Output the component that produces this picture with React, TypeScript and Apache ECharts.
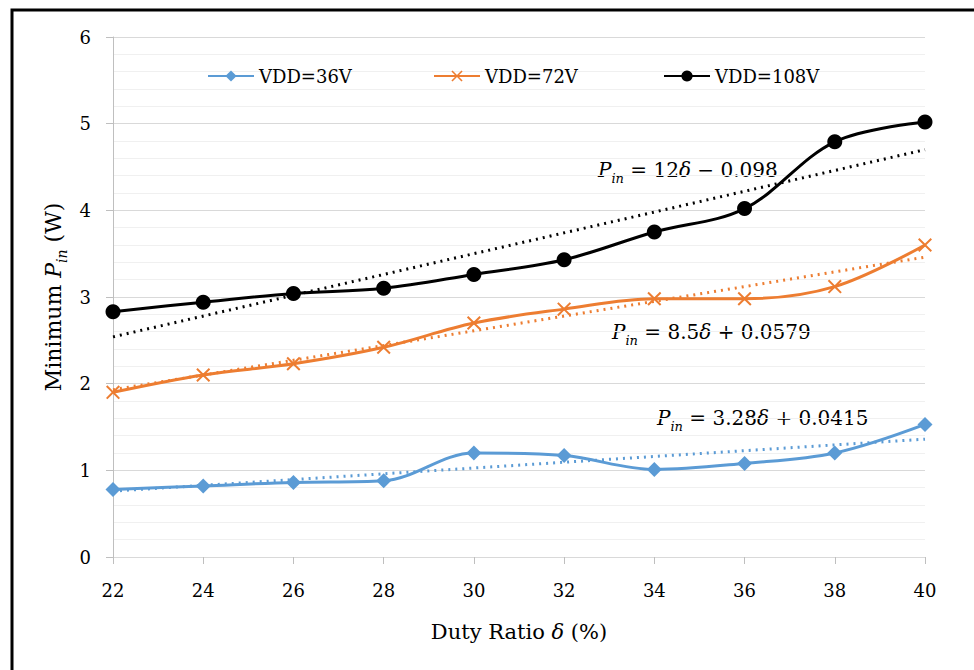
import React, { useEffect, useRef } from "react";
import * as echarts from "echarts";

const duty = [22, 24, 26, 28, 30, 32, 34, 36, 38, 40];
const vdd36 = [0.78, 0.82, 0.86, 0.88, 1.2, 1.17, 1.01, 1.08, 1.2, 1.53];
const vdd72 = [1.9, 2.1, 2.23, 2.42, 2.7, 2.86, 2.98, 2.98, 3.12, 3.6];
const vdd108 = [2.83, 2.94, 3.04, 3.1, 3.26, 3.43, 3.75, 4.02, 4.79, 5.02];
const trendX = [22, 40];
const trend36 = [0.76, 1.36];
const trend72 = [1.93, 3.46];
const trend108 = [2.54, 4.7];
const seriesNames = ["VDD=36V", "VDD=72V", "VDD=108V"];
const yTicks = [0, 6, 1];

const BLUE = "#5B9BD5";
const ORANGE = "#ED7D31";
const BLACK = "#000000";
const FONT = "DejaVu Serif";
const X_PATH =
  "path://M0,1.2L1.2,0L6,4.8L10.8,0L12,1.2L7.2,6L12,10.8L10.8,12L6,7.2L1.2,12L0,10.8L4.8,6Z";

const pair = (xs: number[], ys: number[]) => xs.map((x, i) => [x, ys[i]]);

function eqRich(color: string) {
  const base = { fontFamily: FONT, color, lineHeight: 30, verticalAlign: "middle" };
  return {
    p: { ...base, fontSize: 20, fontStyle: "italic" },
    s: { ...base, fontSize: 13, fontStyle: "italic", verticalAlign: "bottom" },
    t: { ...base, fontSize: 20 },
    d: { ...base, fontSize: 20, fontStyle: "italic" },
  };
}

export default function App() {
  const ref = useRef<HTMLDivElement>(null);
  useEffect(() => {
    if (!ref.current) return;
    const chart = echarts.init(ref.current, undefined, { renderer: "svg" });
    const mainSeries = (name: string, data: number[], color: string, symbol: string, size: number) => ({
      name,
      type: "line",
      data: pair(duty, data),
      smooth: 0.35,
      symbol,
      symbolSize: size,
      lineStyle: { color, width: 3 },
      itemStyle: { color },
      z: 3,
    });
    const trendSeries = (name: string, data: number[], color: string) => ({
      name,
      type: "line",
      data: pair(trendX, data),
      symbol: "none",
      lineStyle: { color, width: 3, type: [2, 5] },
      z: 2,
      silent: true,
    });
    chart.setOption({
      animation: false,
      backgroundColor: "#ffffff",
      textStyle: { fontFamily: FONT },
      grid: { left: 113, right: 49, top: 37, bottom: 113 },
      legend: seriesNames.map((n, i) => ({
        data: [n],
        left: [202, 428, 658][i],
        top: 62,
        itemWidth: 46,
        itemHeight: 14,
        itemGap: 0,
        textStyle: { fontFamily: FONT, fontSize: 18, color: "#000" },
      })),
      xAxis: {
        type: "value",
        min: 22,
        max: 40,
        interval: 2,
        name: "{t|Duty Ratio }{d|δ}{t| (%)}",
        nameLocation: "middle",
        nameGap: 64,
        nameTextStyle: {
          rich: {
            t: { fontFamily: FONT, fontSize: 21, color: "#000" },
            d: { fontFamily: FONT, fontSize: 21, fontStyle: "italic", color: "#000" },
          },
        },
        axisLine: { show: true, lineStyle: { color: "#d9d9d9", width: 1 } },
        axisTick: { show: true, length: 7, lineStyle: { color: "#bfbfbf" } },
        axisLabel: { fontFamily: FONT, fontSize: 18, color: "#000", margin: 24 },
        splitLine: { show: false },
      },
      yAxis: {
        type: "value",
        min: yTicks[0],
        max: yTicks[1],
        interval: yTicks[2],
        name: "{t|Minimum }{p|P}{s|in}{t| (W)}",
        nameLocation: "middle",
        nameGap: 36,
        nameTextStyle: {
          rich: {
            t: { fontFamily: FONT, fontSize: 22, color: "#000", lineHeight: 30, verticalAlign: "middle" },
            p: { fontFamily: FONT, fontSize: 22, fontStyle: "italic", color: "#000", lineHeight: 30, verticalAlign: "middle" },
            s: { fontFamily: FONT, fontSize: 14, fontStyle: "italic", color: "#000", lineHeight: 30, verticalAlign: "bottom" },
          },
        },
        axisLine: { show: true, lineStyle: { color: "#bfbfbf", width: 1 } },
        axisTick: { show: true, length: 7, lineStyle: { color: "#bfbfbf" } },
        axisLabel: { fontFamily: FONT, fontSize: 18, color: "#000", margin: 22 },
        splitLine: { show: true, lineStyle: { color: "#d9d9d9", width: 1 } },
        minorTick: { show: false, splitNumber: 5 },
        minorSplitLine: { show: true, lineStyle: { color: "#f0f0f0", width: 1 } },
      },
      series: [
        mainSeries(seriesNames[0], vdd36, BLUE, "diamond", 15),
        mainSeries(seriesNames[1], vdd72, ORANGE, X_PATH, 14),
        mainSeries(seriesNames[2], vdd108, BLACK, "circle", 15),
        trendSeries("trend36", trend36, BLUE),
        trendSeries("trend72", trend72, ORANGE),
        trendSeries("trend108", trend108, BLACK),
      ],
      graphic: [
        {
          type: "rect",
          shape: { x: 12, y: 10, width: 1000, height: 700 },
          style: { fill: "none", stroke: "#000", lineWidth: 3 },
          silent: true,
        },
        {
          type: "text",
          x: 598,
          y: 155,
          style: { text: "{p|P}{s|in}{t| = 12}{d|δ}{t| − 0.098}", rich: eqRich("#000000") },
        },
        {
          type: "text",
          x: 612,
          y: 317,
          style: { text: "{p|P}{s|in}{t| = 8.5}{d|δ}{t| + 0.0579}", rich: eqRich("#E0742F") },
        },
        {
          type: "text",
          x: 657,
          y: 403,
          style: { text: "{p|P}{s|in}{t| = 3.28}{d|δ}{t| + 0.0415}", rich: eqRich("#4F8FCC") },
        },
      ],
    });
    return () => chart.dispose();
  }, []);
  return (
    <div
      ref={ref}
      style={{ position: "fixed", left: 0, top: 0, width: 974, height: 670, background: "#fff" }}
    />
  );
}
